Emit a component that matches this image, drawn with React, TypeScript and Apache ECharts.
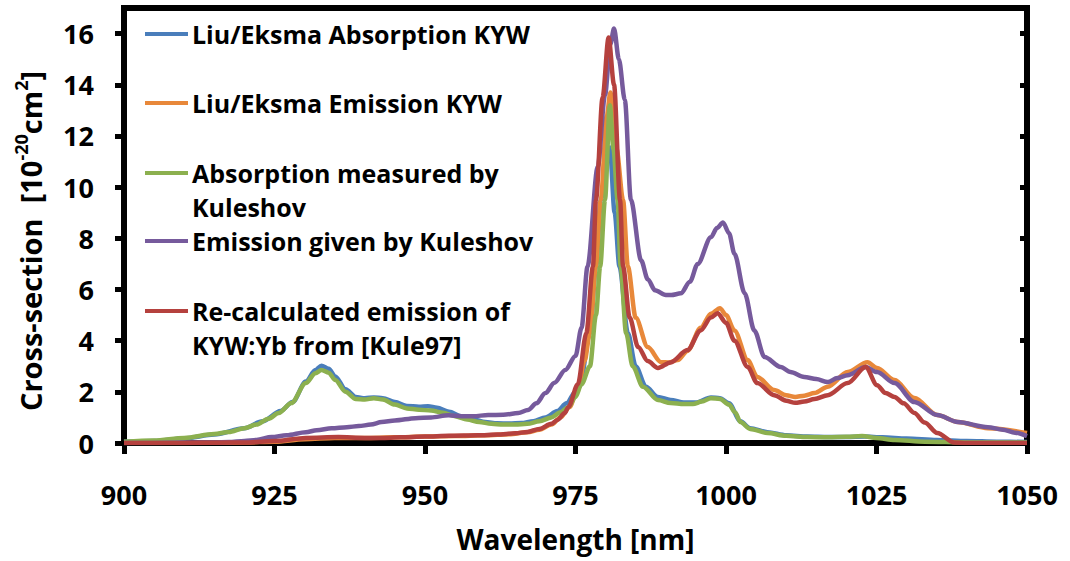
import React, { useEffect, useRef } from "react";
import * as echarts from "echarts";

// Wavelength grid (nm) and cross-sections (10^-20 cm^2) for each spectrum
const absLiuX = [900, 905, 910, 915, 920, 923, 926, 928, 930.2, 931.8, 932.8, 934, 935.1, 936.8, 938.5, 940, 941.5, 943, 945, 947, 949, 950.5, 952, 954, 956, 958, 960, 962, 964, 966, 968, 970, 972, 973.5, 975, 975.7, 977.4, 978.4, 979.2, 980.7, 981.5, 982.3, 983.7, 985, 986.7, 988.7, 990.8, 993, 995, 997.5, 999, 1000.5, 1002.4, 1004, 1006.9, 1010, 1013.5, 1017, 1020, 1023, 1026, 1030, 1035, 1040, 1045, 1050];
const absLiuY = [0.05, 0.08, 0.18, 0.33, 0.58, 0.85, 1.25, 1.6, 2.4, 2.85, 3.02, 2.9, 2.6, 2.1, 1.8, 1.75, 1.78, 1.75, 1.6, 1.45, 1.42, 1.44, 1.38, 1.22, 1.05, 0.92, 0.82, 0.77, 0.76, 0.78, 0.85, 1.0, 1.25, 1.55, 2.0, 2.2, 4.3, 6.9, 9.5, 11.55, 9.0, 6.9, 4.3, 3.0, 2.2, 1.8, 1.68, 1.58, 1.58, 1.78, 1.75, 1.55, 0.85, 0.58, 0.42, 0.3, 0.25, 0.23, 0.23, 0.25, 0.22, 0.18, 0.12, 0.08, 0.05, 0.04];

const emLiuX = [900, 910, 920, 925, 930, 935, 940, 945, 950, 955, 960, 964, 967, 969, 971, 972.5, 974, 975.5, 976.5, 977.4, 978.4, 979.2, 980.2, 980.8, 981.8, 982.9, 983.7, 985, 987, 989.2, 990.5, 992, 993.6, 995.8, 997.5, 999, 1000, 1001.4, 1003.6, 1005.2, 1008, 1010, 1011.5, 1013, 1014.7, 1016.9, 1020.2, 1023.5, 1025.1, 1028, 1031.3, 1035.1, 1038.5, 1043.5, 1050];
const emLiuY = [0, 0, 0.02, 0.05, 0.15, 0.2, 0.2, 0.22, 0.25, 0.27, 0.3, 0.34, 0.42, 0.52, 0.72, 1.0, 1.4, 2.2, 3.2, 4.3, 6.9, 9.5, 12.8, 13.7, 11.5, 9.5, 6.9, 4.9, 3.75, 3.16, 3.15, 3.24, 3.6, 4.5, 5.05, 5.27, 5.0, 4.4, 3.24, 2.58, 2.07, 1.87, 1.8, 1.85, 1.95, 2.2, 2.77, 3.16, 2.93, 2.46, 1.76, 1.09, 0.82, 0.58, 0.39];

const absKuleX = [900, 905, 910, 915, 917.4, 920, 922, 924, 925.7, 927.8, 930.2, 931.8, 932.8, 934, 935.1, 936.8, 938.5, 940, 941.5, 943, 945, 947, 949, 951, 953, 955, 957, 959, 961, 963, 965, 967, 969, 971, 972.5, 973.8, 975, 976, 977.4, 978.4, 979.1, 979.9, 980.7, 981.3, 982, 982.5, 983.4, 984.5, 986.2, 988.7, 990.8, 993, 994.5, 996, 997.5, 999, 1000.5, 1001.5, 1002.4, 1004, 1006.9, 1010, 1013.5, 1017, 1020, 1022.6, 1025, 1028, 1033, 1040, 1050];
const absKuleY = [0.05, 0.1, 0.2, 0.35, 0.43, 0.58, 0.72, 0.95, 1.17, 1.56, 2.34, 2.73, 2.85, 2.75, 2.46, 2.0, 1.72, 1.7, 1.75, 1.7, 1.5, 1.35, 1.3, 1.27, 1.18, 1.05, 0.92, 0.82, 0.75, 0.72, 0.72, 0.75, 0.85, 1.0, 1.2, 1.4, 1.8, 2.3, 3.0, 5.0, 6.9, 9.5, 13.2, 11.5, 9.5, 6.9, 4.3, 3.0, 2.2, 1.68, 1.56, 1.52, 1.52, 1.62, 1.75, 1.72, 1.5, 1.2, 0.82, 0.55, 0.39, 0.28, 0.23, 0.22, 0.24, 0.27, 0.2, 0.12, 0.05, 0.02, 0.02];

const emKuleX = [900, 905, 910, 915, 917.4, 920, 922, 924.5, 927, 930.2, 932, 934.5, 937, 939, 941, 942.8, 945, 948.4, 951, 953.9, 956, 958, 960.5, 963, 965.5, 967.1, 968.5, 970, 971.5, 973.3, 975, 976, 977, 978.7, 979.9, 980.8, 981.4, 982.2, 983.2, 984.2, 985.9, 987, 988.2, 990, 990.9, 992.5, 994, 995.3, 997.5, 998.5, 999.5, 1000.5, 1001.4, 1003.1, 1004.7, 1006.4, 1009.1, 1010.7, 1013, 1015, 1016.9, 1018.5, 1020.2, 1023.2, 1025.1, 1028, 1031.3, 1035.1, 1038.5, 1043.5, 1046, 1048, 1050];
const emKuleY = [0, 0, 0.01, 0.02, 0.04, 0.08, 0.12, 0.23, 0.3, 0.42, 0.5, 0.58, 0.62, 0.66, 0.72, 0.82, 0.88, 0.97, 1.0, 1.08, 1.05, 1.05, 1.09, 1.1, 1.17, 1.29, 1.55, 1.95, 2.35, 2.85, 3.4, 4.5, 6.9, 10.8, 13.6, 15.6, 16.2, 15.0, 13.4, 9.5, 7.14, 6.4, 5.97, 5.78, 5.78, 5.85, 6.3, 7.0, 8.04, 8.4, 8.62, 8.2, 7.4, 5.85, 4.4, 3.36, 2.97, 2.77, 2.58, 2.5, 2.38, 2.54, 2.65, 2.97, 2.77, 2.34, 1.6, 1.09, 0.82, 0.62, 0.52, 0.4, 0.27];

const emRecalcX = [900, 910, 915, 920, 925, 930.2, 935.6, 940, 942.6, 946, 950, 954, 958.8, 962, 965, 967, 969, 971, 972, 973.2, 973.8, 975.4, 976.8, 977.9, 978.4, 979.5, 980.5, 981.4, 982.4, 982.9, 984, 985.4, 987, 988.7, 990.8, 993.6, 995.8, 997.5, 998.6, 1000, 1001.4, 1003.6, 1005.2, 1008, 1010, 1011.5, 1013, 1014.7, 1016.9, 1020.2, 1023.2, 1025.1, 1026.5, 1028, 1029.5, 1031.3, 1033, 1035.1, 1037.9, 1040, 1050];
const emRecalcY = [0, 0, 0.01, 0.02, 0.08, 0.2, 0.23, 0.2, 0.2, 0.22, 0.25, 0.28, 0.3, 0.33, 0.38, 0.43, 0.55, 0.75, 0.9, 1.17, 1.4, 2.3, 4.3, 6.9, 9.5, 13.5, 15.85, 14.0, 9.5, 6.9, 4.9, 3.75, 3.2, 2.93, 3.15, 3.63, 4.4, 4.9, 5.07, 4.7, 4.0, 2.97, 2.34, 1.87, 1.65, 1.57, 1.62, 1.72, 1.87, 2.34, 2.97, 2.26, 1.95, 1.8, 1.55, 1.17, 0.8, 0.39, 0.02, 0, 0];

const seriesNames = [
  "Liu/Eksma Absorption KYW",
  "Liu/Eksma Emission KYW",
  "Absorption measured by Kuleshov",
  "Emission given by Kuleshov",
  "Re-calculated emission of KYW:Yb from [Kule97]",
];
const seriesColors = ["#4A7EBB", "#E8883A", "#8CB04F", "#765A9C", "#B5413E"];
const seriesX = [absLiuX, emLiuX, absKuleX, emKuleX, emRecalcX];
const seriesY = [absLiuY, emLiuY, absKuleY, emKuleY, emRecalcY];

// Legend text, wrapped the way it is printed inside the plot
const legendLines = [
  ["Liu/Eksma Absorption KYW"],
  ["Liu/Eksma Emission KYW"],
  ["Absorption measured by", "Kuleshov"],
  ["Emission given by Kuleshov"],
  ["Re-calculated emission of", "KYW:Yb from [Kule97]"],
];
const legendTops = [34, 103, 173, 241, 311];

const xTicks = [900, 925, 950, 975, 1000, 1025, 1050];
const yTicks = [0, 2, 4, 6, 8, 10, 12, 14, 16];

const FONT = "'Open Sans', sans-serif";

export default function App() {
  const ref = useRef<HTMLDivElement>(null);

  useEffect(() => {
    if (!ref.current) return;
    const chart = echarts.init(ref.current, undefined, { renderer: "svg" });

    const series = seriesNames.map((name, i) => ({
      name,
      type: "line",
      data: seriesX[i].map((x, k) => [x, seriesY[i][k]]),
      showSymbol: false,
      symbol: "none",
      smooth: 0.3,
      smoothMonotone: "x",
      lineStyle: { color: seriesColors[i], width: 4.5 },
      itemStyle: { color: seriesColors[i] },
      z: 2 + i,
    }));

    const legendGraphics: any[] = [];
    legendLines.forEach((lines, i) => {
      const y = legendTops[i];
      legendGraphics.push({
        type: "line",
        shape: { x1: 145, y1: y, x2: 188, y2: y },
        style: { stroke: seriesColors[i], lineWidth: 4 },
        z: 10,
      });
      lines.forEach((t, j) => {
        legendGraphics.push({
          type: "text",
          x: 192,
          y: y + j * 34,
          style: {
            text: t,
            font: `bold 25px ${FONT}`,
            fill: "#000",
            verticalAlign: "middle",
            align: "left",
          },
          z: 10,
        });
      });
    });

    const labelStyle = {
      fontFamily: FONT,
      fontWeight: "bold",
      fontSize: 27,
      color: "#000",
    };
    const plain = (v: number) => String(v);

    chart.setOption({
      animation: false,
      backgroundColor: "#fff",
      grid: {
        left: 124,
        right: 43,
        top: 8,
        bottom: 118,
        show: true,
        borderColor: "#000",
        borderWidth: 6,
        backgroundColor: "transparent",
      },
      xAxis: [
        {
          type: "value",
          position: "bottom",
          min: 900,
          max: 1050,
          interval: 25,
          axisLine: { show: false },
          axisTick: {
            show: true,
            inside: false,
            length: 11,
            customValues: xTicks,
            lineStyle: { color: "#000", width: 5 },
          },
          axisLabel: { ...labelStyle, margin: 38, customValues: xTicks, formatter: plain },
          splitLine: { show: false },
          name: "Wavelength [nm]",
          nameLocation: "middle",
          nameGap: 82,
          nameTextStyle: { ...labelStyle, fontSize: 28 },
        },
        {
          type: "value",
          position: "top",
          min: 900,
          max: 1050,
          interval: 25,
          axisLine: { show: false },
          axisTick: {
            show: true,
            inside: true,
            length: 6,
            customValues: xTicks,
            lineStyle: { color: "#000", width: 5 },
          },
          axisLabel: { show: false },
          splitLine: { show: false },
        },
      ],
      yAxis: [
        {
          type: "value",
          position: "left",
          min: 0,
          max: 17,
          interval: 2,
          axisLine: { show: false },
          axisTick: {
            show: true,
            inside: false,
            length: 9,
            customValues: yTicks,
            lineStyle: { color: "#000", width: 5 },
          },
          axisLabel: { ...labelStyle, margin: 30, customValues: yTicks, formatter: plain },
          splitLine: { show: false },
        },
        {
          type: "value",
          position: "right",
          min: 0,
          max: 17,
          interval: 2,
          axisLine: { show: false },
          axisTick: {
            show: true,
            inside: true,
            length: 7,
            customValues: yTicks,
            lineStyle: { color: "#000", width: 5 },
          },
          axisLabel: { show: false },
          splitLine: { show: false },
        },
      ],
      series,
      graphic: [
        ...legendGraphics,
        {
          type: "text",
          x: 30,
          y: 241,
          rotation: Math.PI / 2,
          style: {
            text: "{b|Cross-section  [10}{s|-20}{b|cm}{s|2}{b|]}",
            align: "center",
            verticalAlign: "middle",
            rich: {
              b: { font: `bold 29px ${FONT}`, fill: "#000", lineHeight: 36 },
              s: {
                font: `bold 18px ${FONT}`,
                fill: "#000",
                verticalAlign: "top",
                lineHeight: 36,
              },
            },
          },
        },
      ],
    });

    return () => chart.dispose();
  }, []);

  return (
    <div
      ref={ref}
      style={{ position: "fixed", left: 0, top: 0, width: 1070, height: 561 }}
    />
  );
}
